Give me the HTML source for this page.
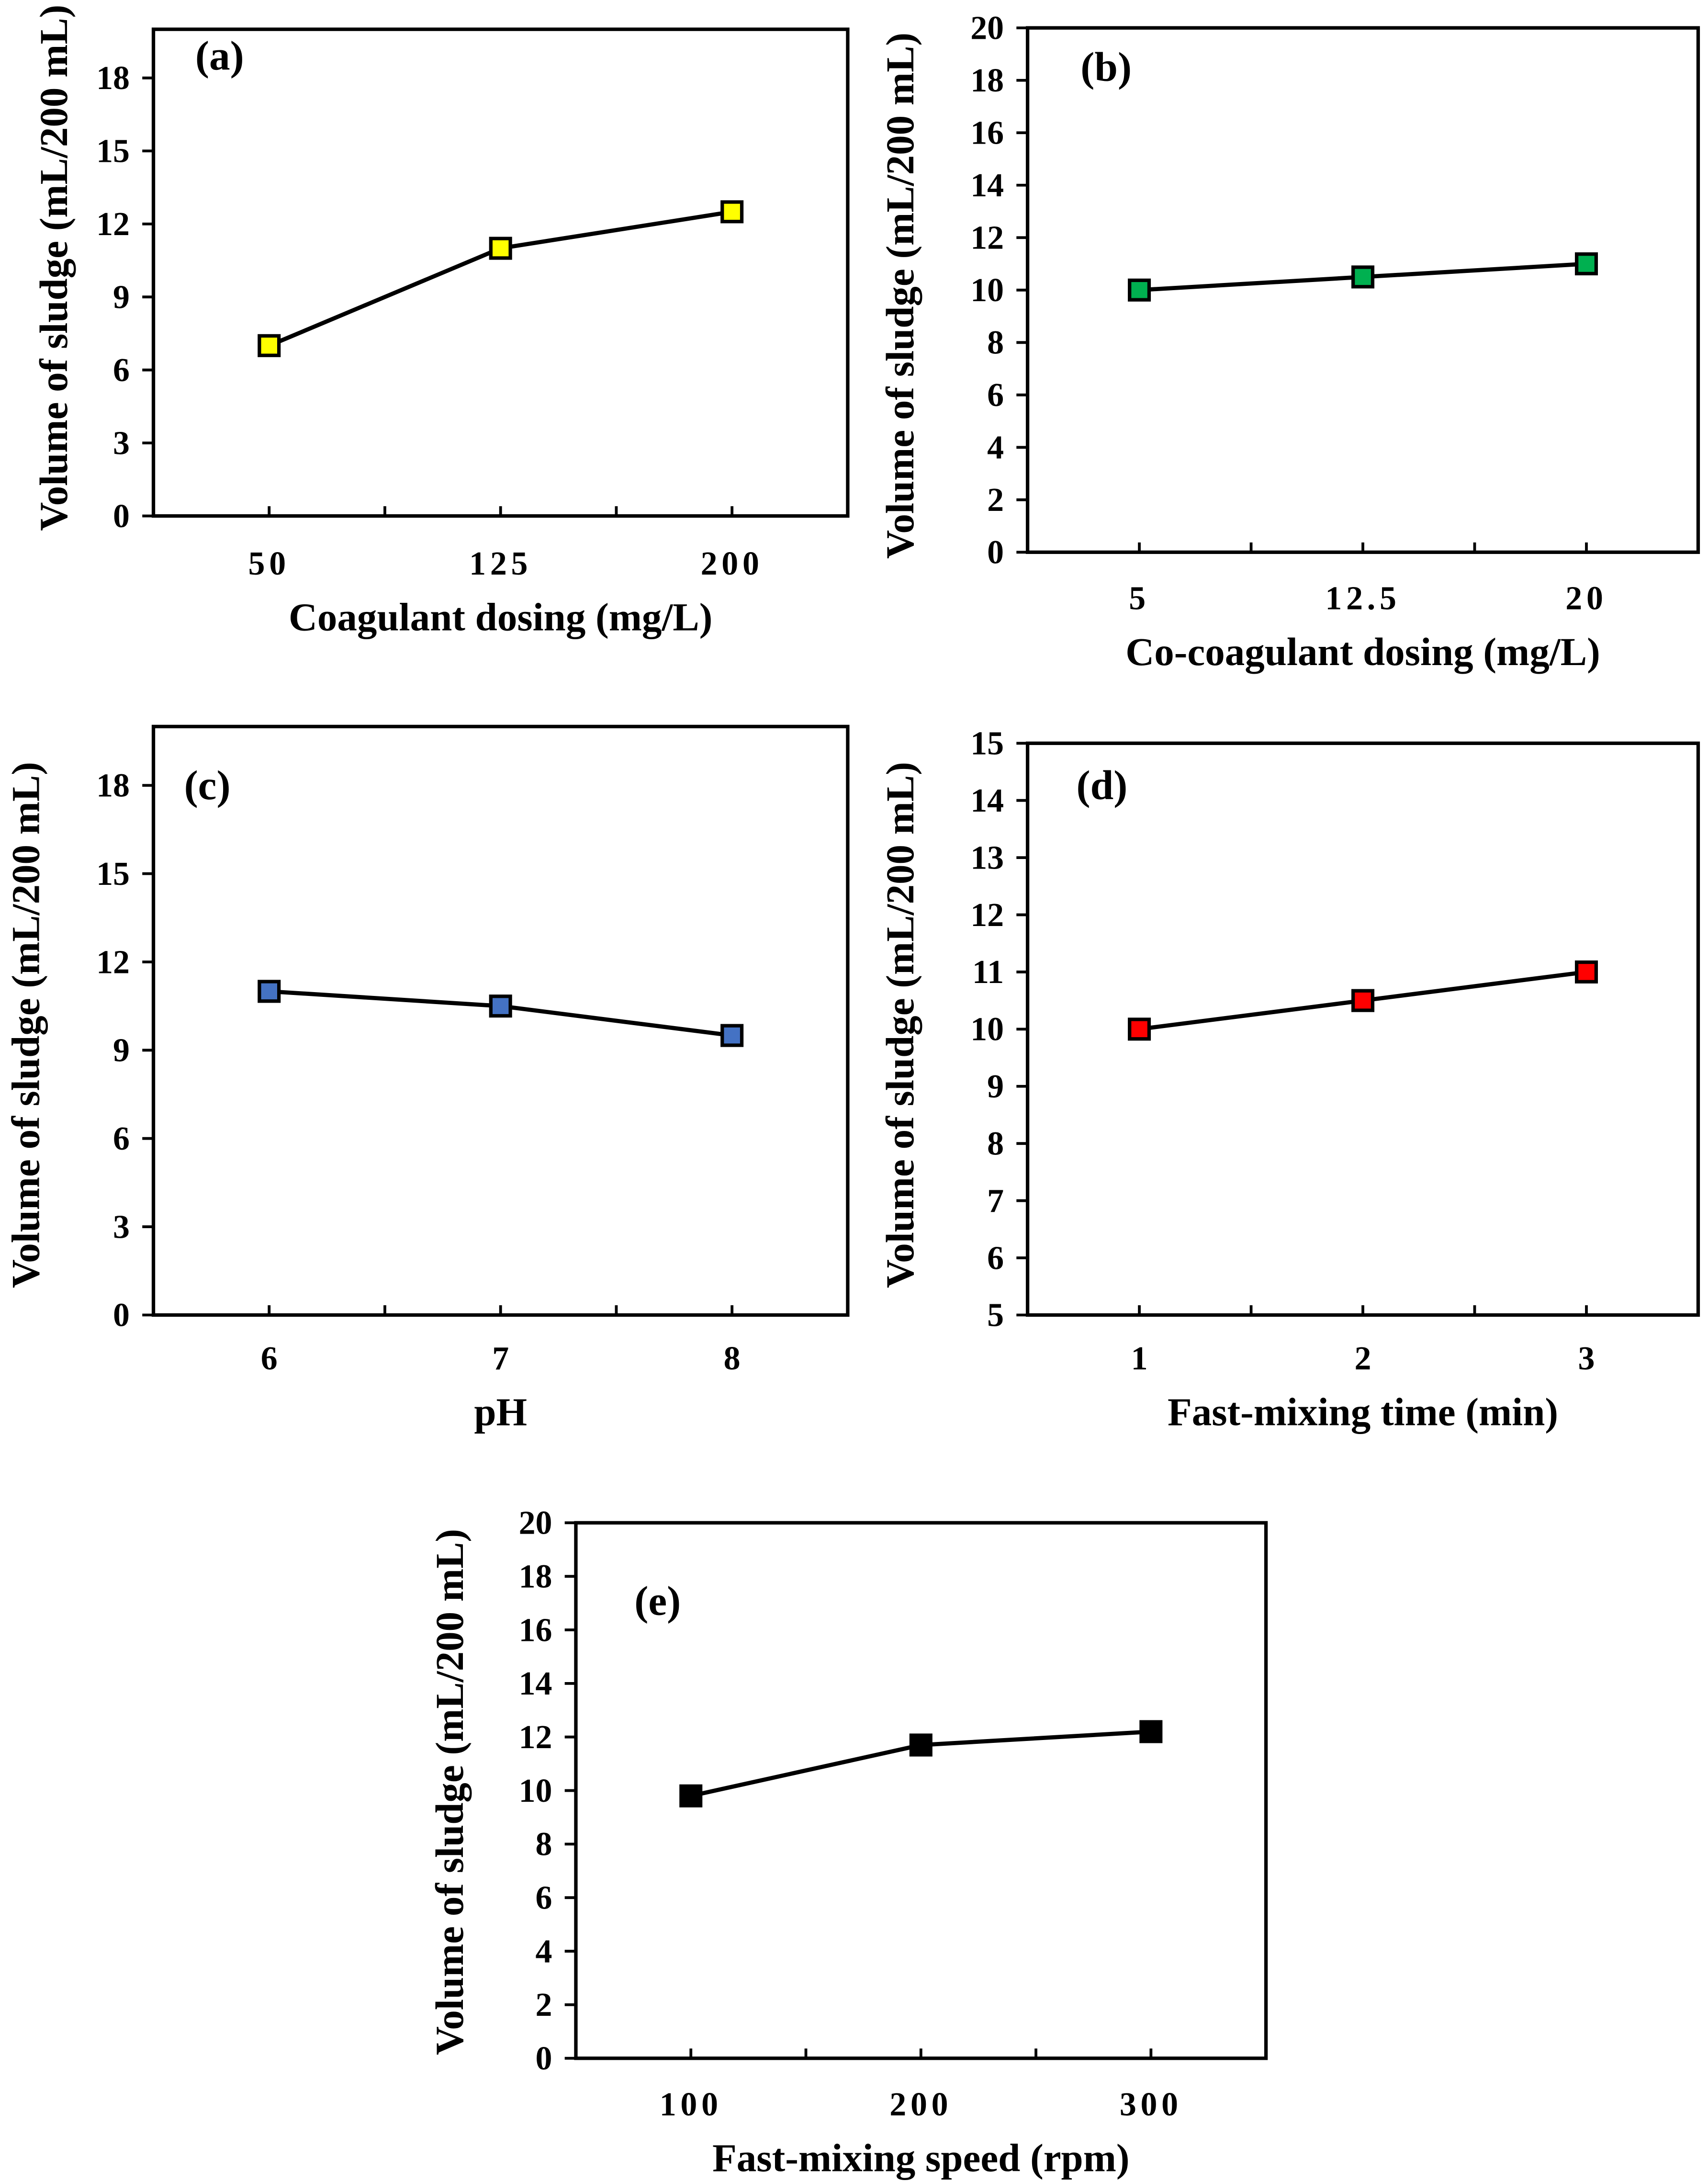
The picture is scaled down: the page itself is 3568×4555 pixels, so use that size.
<!DOCTYPE html>
<html><head><meta charset="utf-8"><style>
html,body{margin:0;padding:0;background:#fff}
svg{display:block;font-family:"Liberation Serif",serif;font-weight:bold}
</style></head><body>
<svg id="fig" xmlns="http://www.w3.org/2000/svg" width="3568" height="4555" viewBox="0 0 1225 1564"></svg>
<script>
const catsA=["50","125","200"], valsA=[7,11,12.5], ticksA=[0,3,6,9,12,15,18];
const catsB=["5","12.5","20"], valsB=[10,10.5,11], ticksB=[0,2,4,6,8,10,12,14,16,18,20];
const catsC=["6","7","8"], valsC=[11,10.5,9.5], ticksC=[0,3,6,9,12,15,18];
const catsD=["1","2","3"], valsD=[10,10.5,11], ticksD=[5,6,7,8,9,10,11,12,13,14,15];
const catsE=["100","200","300"], valsE=[9.8,11.7,12.2], ticksE=[0,2,4,6,8,10,12,14,16,18,20];

const NS="http://www.w3.org/2000/svg";
const svg=document.getElementById('fig');
function mk(tag,attrs,parent,text){const e=document.createElementNS(NS,tag);for(const k in attrs)e.setAttribute(k,attrs[k]);if(text!==undefined)e.textContent=text;(parent||svg).appendChild(e);return e;}

const panels=[
 {id:'a',L:110,R:608,T:21,B:370,ymin:0,ymax:20,cats:catsA,vals:valsA,ticks:ticksA,color:'#ffff00',xt:'Coagulant dosing (mg/L)',xtY:452,tkY:412,yt:[38,192],lab:[140,50],sp:3},
 {id:'b',L:737,R:1218,T:20,B:396,ymin:0,ymax:20,cats:catsB,vals:valsB,ticks:ticksB,color:'#00b050',xt:'Co-coagulant dosing (mg/L)',xtY:477,tkY:437,yt:[645,212],lab:[775,58],sp:3},
 {id:'c',L:110,R:608,T:521,B:943,ymin:0,ymax:20,cats:catsC,vals:valsC,ticks:ticksC,color:'#4472c4',xt:'pH',xtY:1022,tkY:982,yt:[18,735],lab:[132,573],sp:0},
 {id:'d',L:737,R:1218,T:533,B:943,ymin:5,ymax:15,cats:catsD,vals:valsD,ticks:ticksD,color:'#ff0000',xt:'Fast-mixing time (min)',xtY:1022,tkY:982,yt:[645,735],lab:[772,573],sp:0},
 {id:'e',L:413,R:908,T:1092,B:1476,ymin:0,ymax:20,cats:catsE,vals:valsE,ticks:ticksE,color:'#000000',xt:'Fast-mixing speed (rpm)',xtY:1557,tkY:1517,yt:[322,1285],lab:[455,1158],sp:3}
];

panels.forEach(p=>{
  const g=mk('g',{});
  
  
  const ys=v=>p.B-(v-p.ymin)/(p.ymax-p.ymin)*(p.B-p.T);
  const n=p.cats.length, w=(p.R-p.L)/n;
  const xs=i=>p.L+w*(i+0.5);
  const fr=mk('rect',{x:p.L,y:p.T,width:p.R-p.L,height:p.B-p.T,fill:'none',stroke:'#000','stroke-width':2.5},g);
  
  
  p.ticks.forEach(t=>{
    const y=ys(t);
    mk('line',{x1:p.L-8,x2:p.L,y1:y,y2:y,stroke:'#000','stroke-width':2},g);
    const tl=mk('text',{x:p.L-17,y:y+8,'text-anchor':'end','font-size':24},g,String(t));
    
    
  });
  for(let k=1;k<2*n;k++){
    const x=p.L+w*k/2;
    mk('line',{x1:x,x2:x,y1:p.B-7,y2:p.B,stroke:'#000','stroke-width':2},g);
  }
  p.cats.forEach((c,i)=>{
    const tl=mk('text',{x:xs(i),y:p.tkY,'text-anchor':'middle','font-size':24,'letter-spacing':p.sp},g,c);
    
    
  });
  const xt=mk('text',{x:(p.L+p.R)/2,y:p.xtY,'text-anchor':'middle','font-size':28.5},g,p.xt);
  
  
  const yt=mk('text',{x:0,y:0,transform:`translate(${p.yt[0]+10},${p.yt[1]}) rotate(-90)`,'text-anchor':'middle','font-size':28.5},g,'Volume of sludge (mL/200 mL)');
  
  
  const lb=mk('text',{x:p.lab[0],y:p.lab[1],'font-size':30},g,'('+p.id+')');
  
  
  const pts=p.vals.map((v,i)=>xs(i)+','+ys(v)).join(' ');
  const ln=mk('polyline',{points:pts,fill:'none',stroke:'#000','stroke-width':3},g);
  
  
  p.vals.forEach((v,i)=>{
    const m=mk('rect',{x:xs(i)-7,y:ys(v)-7,width:14,height:14,fill:p.color,stroke:'#000','stroke-width':2.5},g);
    
    
  });
});
</script>
</body></html>
